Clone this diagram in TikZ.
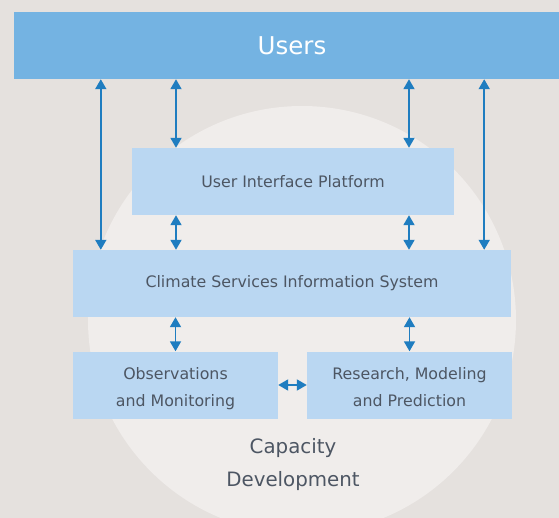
\documentclass[tikz,border=0pt]{standalone}
\usepackage{fontspec}
\setmainfont{DejaVu Sans}
\usetikzlibrary{arrows.meta,positioning}

\definecolor{bgcol}{HTML}{E5E1DE}
\definecolor{circcol}{HTML}{F0EDEB}
\definecolor{usercol}{HTML}{74B3E2}
\definecolor{boxcol}{HTML}{BAD7F2}
\definecolor{linkcol}{HTML}{1F7DC0}
\definecolor{txtcol}{HTML}{4D5663}

\begin{document}
\begin{tikzpicture}[x=1pt, y=-1pt, >={Triangle[width=11pt,length=10pt]},
    box/.style={fill=boxcol, text=txtcol, inner sep=0pt, font=\fontsize{15.8}{27}\selectfont, align=center},
    twoline/.style={text height=46pt, text depth=3pt},
    link/.style={<->, draw=linkcol, fill=linkcol, line width=1.8pt}]
    % background and capacity circle
    \useasboundingbox (0,0) rectangle (559,518);
    \fill[bgcol] (0,0) rectangle (559,518);
    \begin{scope}
        \clip (0,0) rectangle (559,518);
        \fill[circcol] (302,320) circle (214);
    \end{scope}

    % boxes
    \node[fill=usercol, inner sep=0pt, minimum width=545pt, minimum height=67pt] (users) at (286.5,45.5) {};
    \node[text=white, font=\fontsize{24.5}{28}\selectfont] (userstext) at (292,45.5) {Users};
    \node[box, minimum width=322pt, minimum height=67pt] (uip) at (293,181.5) {User Interface Platform};
    \node[box, minimum width=438pt, minimum height=67pt] (csis) at (292,283.5) {Climate Services Information System};
    \node[box, twoline, minimum width=205pt, minimum height=67pt] (obs) at (175.5,385) {Observations\\and Monitoring};
    \node[box, twoline, minimum width=205pt, minimum height=67pt] (rmp) at (409.5,385) {Research, Modeling\\and Prediction};
    \node[text=txtcol, align=center, font=\fontsize{19.8}{33}\selectfont] (capdev) at (293,465) {Capacity\\Development};

    % connectors
    \draw[link] ([xshift=-117pt]uip.north) -- ([xshift=-117pt]uip.north |- users.south);
    \draw[link] ([xshift=116pt]uip.north) -- ([xshift=116pt]uip.north |- users.south);
    \draw[link] ([xshift=28pt]csis.north west) -- ([xshift=28pt]csis.north west |- users.south);
    \draw[link] ([xshift=-27pt]csis.north east) -- ([xshift=-27pt]csis.north east |- users.south);
    \draw[link] ([xshift=-117pt]uip.south) -- ([xshift=-117pt]uip.south |- csis.north);
    \draw[link] ([xshift=116pt]uip.south) -- ([xshift=116pt]uip.south |- csis.north);
    \draw[link] (obs.north) -- (obs.north |- csis.south);
    \draw[link] (rmp.north) -- (rmp.north |- csis.south);
    \draw[link] (obs.east) -- (rmp.west);
\end{tikzpicture}
\end{document}
